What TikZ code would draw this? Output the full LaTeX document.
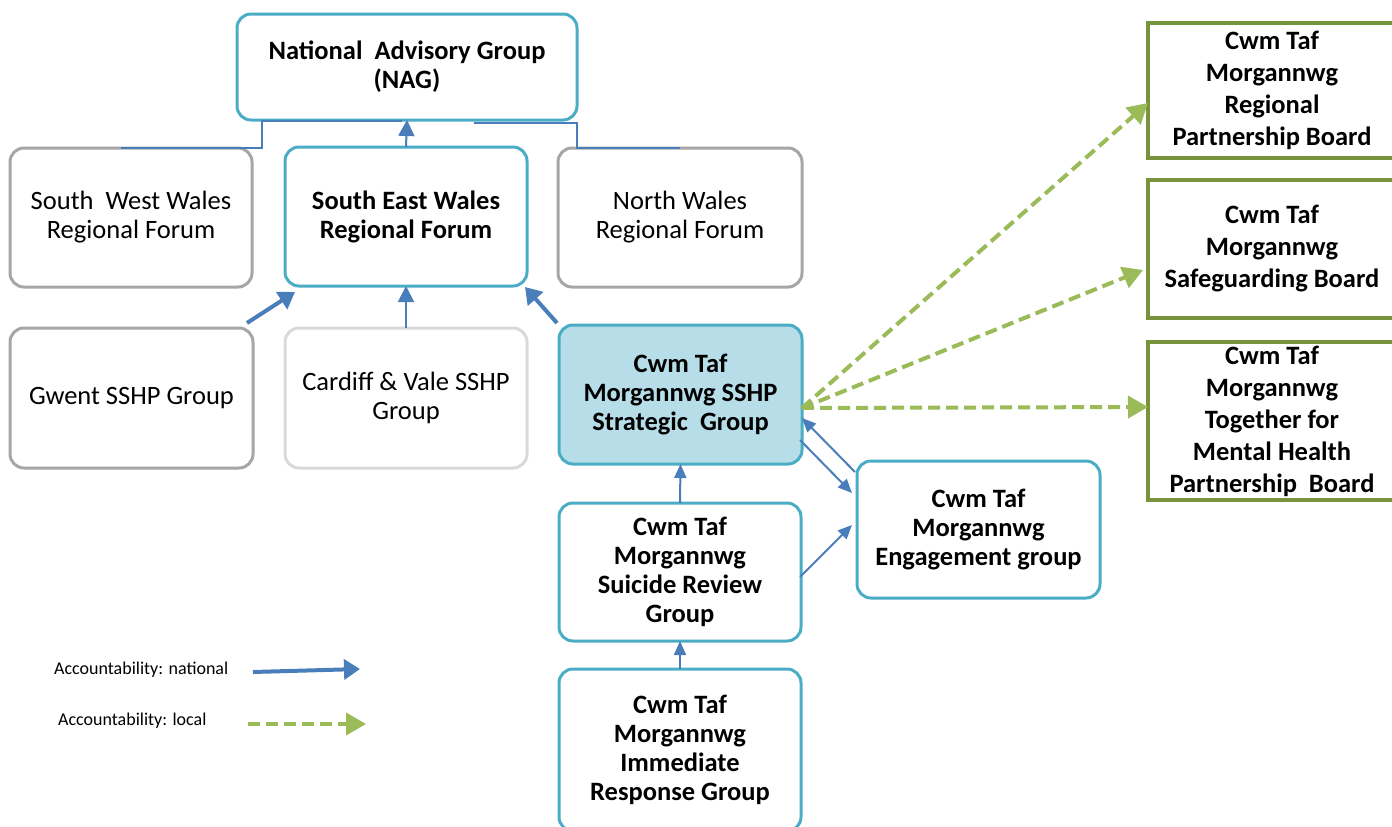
\documentclass[tikz,border=0pt]{standalone}
\usepackage{fontspec}
\setmainfont{Carlito}
\usetikzlibrary{arrows.meta,calc}
\definecolor{cy}{HTML}{4BACC6}
\definecolor{cyfill}{HTML}{B7DEE8}
\definecolor{gr}{HTML}{A6A6A6}
\definecolor{lgr}{HTML}{D9D9D9}
\definecolor{bl}{HTML}{4A7EBB}
\definecolor{gn}{HTML}{9BBB59}
\definecolor{dgn}{HTML}{77933C}
\begin{document}
\begin{tikzpicture}[x=1pt,y=-1pt,
  base/.style={draw, rounded corners=14pt, line width=3pt, inner sep=0pt, outer sep=0pt, align=center, font=\fontsize{26.5}{29}\selectfont},
  cybox/.style={base, draw=cy, font=\bfseries\fontsize{26.5}{29}\selectfont},
  grbox/.style={base, draw=gr},
  lgbox/.style={base, draw=lgr},
  gnbox/.style={draw=dgn, line width=3.5pt, inner sep=0pt, outer sep=0pt, align=center, font=\bfseries\fontsize{26.5}{32}\selectfont},
  thick arrow/.style={draw=bl, line width=4pt, -{Triangle[length=16pt,width=20pt]}},
  thin arrow/.style={draw=bl, line width=2pt, -{Triangle[length=16pt,width=16pt]}},
  link arrow/.style={draw=bl, line width=2pt, -{Triangle[length=14pt,width=12pt]}},
  link/.style={draw=bl, line width=2pt},
  local/.style={draw=gn, line width=4pt, dash pattern=on 12pt off 6pt, -{Triangle[length=20pt,width=22pt]}},
  legend/.style={font=\fontsize{18}{21}\selectfont, inner sep=0pt, anchor=west}
]
\useasboundingbox (0,0) rectangle (1392,827);
% boxes
\node[cybox, minimum width=340pt, minimum height=106pt] (nag) at (407,67) {National \ Advisory Group\\(NAG)};
\node[grbox, minimum width=242pt, minimum height=139pt] (swf) at (131,217.5) {South \ West Wales\\Regional Forum};
\node[cybox, minimum width=242pt, minimum height=139pt] (sef) at (406,216.5) {South East Wales\\Regional Forum};
\node[grbox, minimum width=244pt, minimum height=139pt] (nwf) at (680,217.5) {North Wales\\Regional Forum};
\node[grbox, minimum width=243pt, minimum height=140pt] (gw) at (131.5,398) {Gwent SSHP Group};
\node[lgbox, minimum width=242pt, minimum height=140pt] (cv) at (406,398) {Cardiff \& Vale SSHP\\Group};
\node[cybox, fill=cyfill, minimum width=243pt, minimum height=139pt] (ss) at (680.5,394.5) {Cwm Taf\\Morgannwg SSHP\\Strategic \ Group};
\node[cybox, minimum width=242pt, minimum height=138pt] (sr) at (680,572) {Cwm Taf\\Morgannwg\\Suicide Review\\Group};
\node[cybox, minimum width=242pt, minimum height=162pt] (ir) at (680,750) {Cwm Taf\\Morgannwg\\Immediate\\Response Group};
\node[cybox, minimum width=243pt, minimum height=137pt] (eg) at (978.5,529.5) {Cwm Taf\\Morgannwg\\Engagement group};
\node[gnbox, minimum width=248pt, minimum height=135pt] (rpb) at (1272,90.5) {Cwm Taf\\Morgannwg\\Regional\\Partnership Board};
\node[gnbox, minimum width=248pt, minimum height=138pt] (sb) at (1272,249) {Cwm Taf\\Morgannwg\\Safeguarding Board};
\node[gnbox, minimum width=248pt, minimum height=158pt] (tmh) at (1272,421) {Cwm Taf\\Morgannwg\\Together for\\Mental Health\\Partnership \ Board};
% connectors to NAG
\coordinate (jl) at (262,121);
\coordinate (jr) at (577,123);
\draw[link] ($(swf.north)+(-10,0)$) -- (jl |- swf.north) -- (jl) -- (402,121);
\draw[link] (nwf.north) -- (jr |- nwf.north) -- (jr) -- (474,123);
\draw[thin arrow] (sef.north) -- (nag.south);
% to SE forum
\draw[thick arrow] ($(gw.north east)+(-6,-5)$) -- ($(sef.south west)+(10,6)$);
\draw[thin arrow] (cv.north) -- (sef.south);
\draw[thick arrow] ($(ss.north west)+(-2,-2)$) -- ($(sef.south east)+(-2,1)$);
% local chain
\draw[link arrow] (sr.north) -- (ss.south);
\draw[link arrow] (ir.north) -- (sr.south);
\draw[link arrow] ($(eg.north west)+(-2,11)$) -- ($(ss.east)+(0,23.5)$);
\draw[link arrow] ($(ss.east)+(-2,45.5)$) -- ($(eg.west)+(-5,-36.5)$);
\draw[link arrow] ($(sr.east)+(-1,5)$) -- ($(eg.west)+(-5,-4.5)$);
% local accountability
\coordinate (src) at ($(ss.east)+(0,13.5)$);
\draw[local] (src) -- ($(rpb.west)+(0,12.5)$);
\draw[local] (src) -- ($(sb.west)+(-5,21)$);
\draw[local] (src) -- ($(tmh.west)+(0,-14)$);
% legend
\node[legend] (ln) at (54,670) {Accountability: national};
\node[legend] (ll) at (58,721) {Accountability: local};
\coordinate (ln1) at (253,672);
\coordinate (ln2) at (360,669);
\coordinate (ll1) at (248,724);
\coordinate (ll2) at (366,724);
\draw[thick arrow] (ln1) -- (ln2);
\draw[local] (ll1) -- (ll2);
\end{tikzpicture}
\end{document}
